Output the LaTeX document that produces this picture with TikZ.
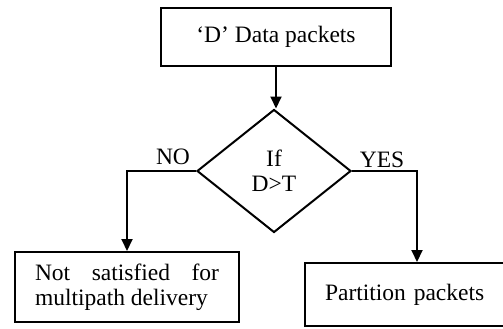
\documentclass[tikz,border=0pt]{standalone}
\usepackage{fontspec}
\setmainfont{Liberation Serif}
\usetikzlibrary{shapes.geometric,arrows.meta}
\begin{document}
\begin{tikzpicture}[x=1pt,y=-1pt,
  every node/.style={font=\fontsize{23.5}{25}\selectfont},
  boxnode/.style={draw, line width=2pt, inner sep=0pt},
  conn/.style={line width=2pt, -{Triangle[length=12pt,width=11pt]}},
  lbl/.style={inner sep=0pt}]
\useasboundingbox (0,0) rectangle (503,329);
\clip (0,0) rectangle (503,329);
\fill[white] (0,0) rectangle (503,329);
\node[boxnode, minimum width=230pt, minimum height=58pt] (top) at (276,37) {`D' Data packets};
\node[draw, line width=2pt, diamond, aspect=1.25, minimum width=154pt, minimum height=123pt, inner sep=0pt, align=center] (dec) at (274,171) {If\\D>T};
\node[boxnode, text width=184pt, inner xsep=20pt, minimum height=70pt, align=justify] (lb) at (127,287) {Not satisfied for\linebreak multipath delivery};
\node[boxnode, text width=215pt, inner xsep=20pt, minimum height=63pt, align=left] (rb) at (432.5,294.5) {Partition packets};
\node[lbl] (no) at (173,157) {NO};
\node[lbl] (yes) at (382,160) {YES};
\coordinate (yr) at (417,0);
\draw[conn] (top.south) -- (top.south |- dec.north);
\draw[conn] (dec.west) -| (lb.north);
\draw[conn] (dec.east) -| (yr |- rb.north);
\end{tikzpicture}
\end{document}
